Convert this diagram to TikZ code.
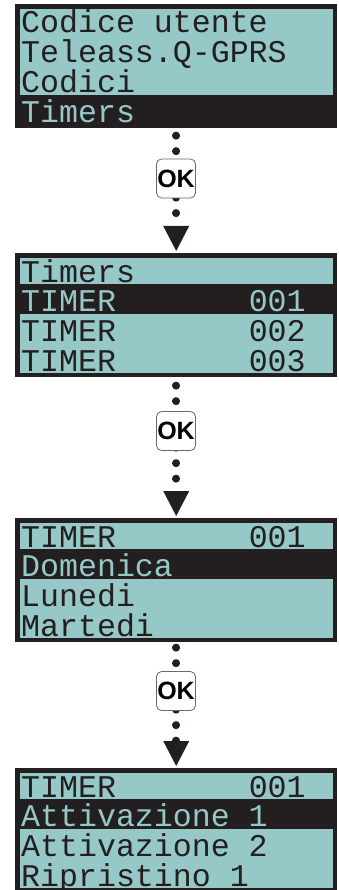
\documentclass[tikz,border=0pt]{standalone}
\usepackage{fontspec}
\usepackage{tikz}
\usetikzlibrary{arrows.meta, positioning, calc}
\newfontfamily\lcdfont{Liberation Mono}[FakeStretch=1.0]
\newfontfamily\keyfont{Liberation Sans}
\definecolor{LcdCyan}{RGB}{149, 200, 198}
\definecolor{LcdBlack}{RGB}{35, 31, 32}
\definecolor{KeyGray}{RGB}{105, 105, 105}

\tikzset{
  lcdframe/.style={fill=LcdBlack, minimum width=322pt, minimum height=124pt,
    inner sep=0pt, anchor=north west},
  lcdtext/.style={anchor=base west, inner sep=0pt,
    font=\lcdfont\fontsize{31.6}{32}\selectfont},
  okkey/.style={fill=white, draw=KeyGray, line width=0.8pt, rounded corners=5pt,
    minimum width=39pt, minimum height=39pt, inner sep=0pt,
    font=\keyfont\bfseries\fontsize{25}{25}\selectfont},
  flowline/.style={draw=LcdBlack, line width=7.5pt, line cap=round,
    dash pattern=on 0.5pt off 15pt,
    -{Triangle[width=26pt, length=25pt, line width=0pt]}, shorten >=2pt}
}

% #1 name, #2 top, #3 selected row, #4-#7 rows
\newcommand{\lcdscreen}[7]{%
  \node[lcdframe] (#1) at (15,-#2) {};
  \fill[LcdCyan] ($(#1.north west)+(5,-5)$) rectangle ($(#1.south east)+(-4,4)$);
  \fill[LcdBlack] ($(#1.north west)+(0,{-1-30*(#3-1)})$)
    rectangle ($(#1.north east)+(0,{-1-30*#3})$);
  \foreach \rowtext [count=\r] in {#4,#5,#6,#7} {
    \ifnum\r=#3 \def\rowcol{LcdCyan}\else\def\rowcol{LcdBlack}\fi
    \node[lcdtext, text=\rowcol] (#1-\r)
      at ($(#1.north west)+(6,{-29-29.7*(\r-1)})$) {\rowtext};
  }
}

\begin{document}
\begin{tikzpicture}[x=1pt, y=1pt]
  \useasboundingbox (0,0) rectangle (339,-890);

  \lcdscreen{scr1}{4}{4}{Codice utente}{Teleass.Q-GPRS}{Codici}{Timers}
  \lcdscreen{scr2}{253}{2}{Timers}{TIMER~~~~~~~001}{TIMER~~~~~~~002}{TIMER~~~~~~~003}
  \lcdscreen{scr3}{518}{2}{TIMER~~~~~~~001}{Domenica}{Lunedi}{Martedi}
  \lcdscreen{scr4}{768}{2}{TIMER~~~~~~~001}{Attivazione 1}{Attivazione 2}{Ripristino 1}

  \draw[flowline, dash phase=8.5pt] (scr1.south) -- (scr2.north);
  \draw[flowline, dash phase=7.5pt] (scr2.south) -- (scr3.north);
  \draw[flowline, dash phase=10.5pt] (scr3.south) -- (scr4.north);

  \node[okkey] (ok1) at (176,-178.5) {OK};
  \node[okkey] (ok2) at (176,-431) {OK};
  \node[okkey] (ok3) at (176,-691) {OK};
\end{tikzpicture}
\end{document}
